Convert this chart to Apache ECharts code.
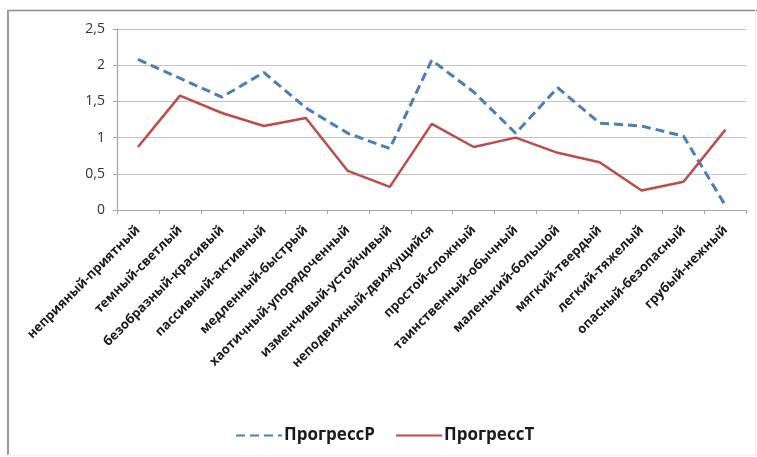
<!DOCTYPE html>
<html>
<head>
<meta charset="utf-8">
<script src="https://cdn.jsdelivr.net/npm/echarts@6/dist/echarts.min.js"></script>
<style>
  html, body { margin: 0; padding: 0; background: #fff; }
  #chart { width: 757px; height: 457px; }
</style>
</head>
<body>
<div id="chart"></div>
<script>
// Pairs of opposite adjectives along the horizontal axis
const categories = [
  'неприяный-приятный', 'темный-светлый', 'безобразный-красивый', 'пассивный-активный',
  'медленный-быстрый', 'хаотичный-упорядоченный', 'изменчивый-устойчивый', 'неподвижный-движущийся',
  'простой-сложный', 'таинственный-обычный', 'маленький-большой', 'мягкий-твердый',
  'легкий-тяжелый', 'опасный-безопасный', 'грубый-нежный'
];

const progressR = [2.08, 1.82, 1.56, 1.90, 1.41, 1.06, 0.85, 2.07, 1.63, 1.06, 1.69, 1.20, 1.16, 1.02, 0.06];
const progressT = [0.87, 1.58, 1.34, 1.16, 1.27, 0.54, 0.32, 1.19, 0.87, 1.00, 0.79, 0.66, 0.27, 0.39, 1.11];

const yTicks = { min: 0, max: 2.5, step: 0.5 };

const chart = echarts.init(document.getElementById('chart'), null, { renderer: 'canvas' });

const FONT = '"Open Sans", "Noto Sans", sans-serif';

chart.setOption({
  animation: false,
  backgroundColor: '#ffffff',
  graphic: [
    { type: 'line', shape: { x1: 8, y1: 10.5, x2: 757, y2: 10.5 }, style: { stroke: '#8c8c8c', lineWidth: 1.5 } },
    { type: 'line', shape: { x1: 8, y1: 10, x2: 8, y2: 455 }, style: { stroke: '#9a9a9a', lineWidth: 2 } },
    { type: 'line', shape: { x1: 8, y1: 455, x2: 757, y2: 455 }, style: { stroke: '#eeeeee', lineWidth: 1 } },
    { type: 'line', shape: { x1: 755.5, y1: 10, x2: 755.5, y2: 455 }, style: { stroke: '#eeeeee', lineWidth: 1 } }
  ],
  grid: { left: 117, right: 10.5, top: 29, bottom: 247 },
  legend: {
    left: 230,
    top: 422,
    itemWidth: 46,
    itemHeight: 12,
    itemGap: 20,
    itemStyle: { opacity: 0 },
    textStyle: { fontFamily: FONT, fontSize: 17, fontWeight: 'bold', color: '#1a1a1a', padding: [0, 0, 0, -3] },
    data: ['ПрогрессР', 'ПрогрессТ']
  },
  xAxis: {
    type: 'category',
    data: categories,
    boundaryGap: true,
    axisLine: { lineStyle: { color: '#a6a6a6', width: 1.2 } },
    axisTick: { show: true, length: 4, inside: false, lineStyle: { color: '#a6a6a6' } },
    axisLabel: {
      interval: 0,
      rotate: 45,
      margin: 18,
      fontFamily: FONT,
      fontSize: 13,
      fontWeight: 'bold',
      color: '#1a1a1a'
    }
  },
  yAxis: {
    type: 'value',
    min: yTicks.min,
    max: yTicks.max,
    interval: yTicks.step,
    axisLine: { show: true, lineStyle: { color: '#a6a6a6', width: 1.2 } },
    axisTick: { show: true, length: 4, lineStyle: { color: '#a6a6a6' } },
    splitLine: { lineStyle: { color: '#c4c4c4', width: 1.2 } },
    axisLabel: {
      margin: 12,
      fontFamily: FONT,
      fontSize: 14,
      color: '#333333',
      formatter: v => String(v).replace('.', ',')
    }
  },
  series: [
    {
      name: 'ПрогрессР',
      type: 'line',
      data: progressR,
      symbol: 'none',
      lineStyle: { color: '#4a7ebb', width: 3, type: [9, 5] },
      itemStyle: { color: '#4a7ebb' }
    },
    {
      name: 'ПрогрессТ',
      type: 'line',
      data: progressT,
      symbol: 'none',
      lineStyle: { color: '#be4b48', width: 2.5 },
      itemStyle: { color: '#be4b48' }
    }
  ]
});
</script>
</body>
</html>
